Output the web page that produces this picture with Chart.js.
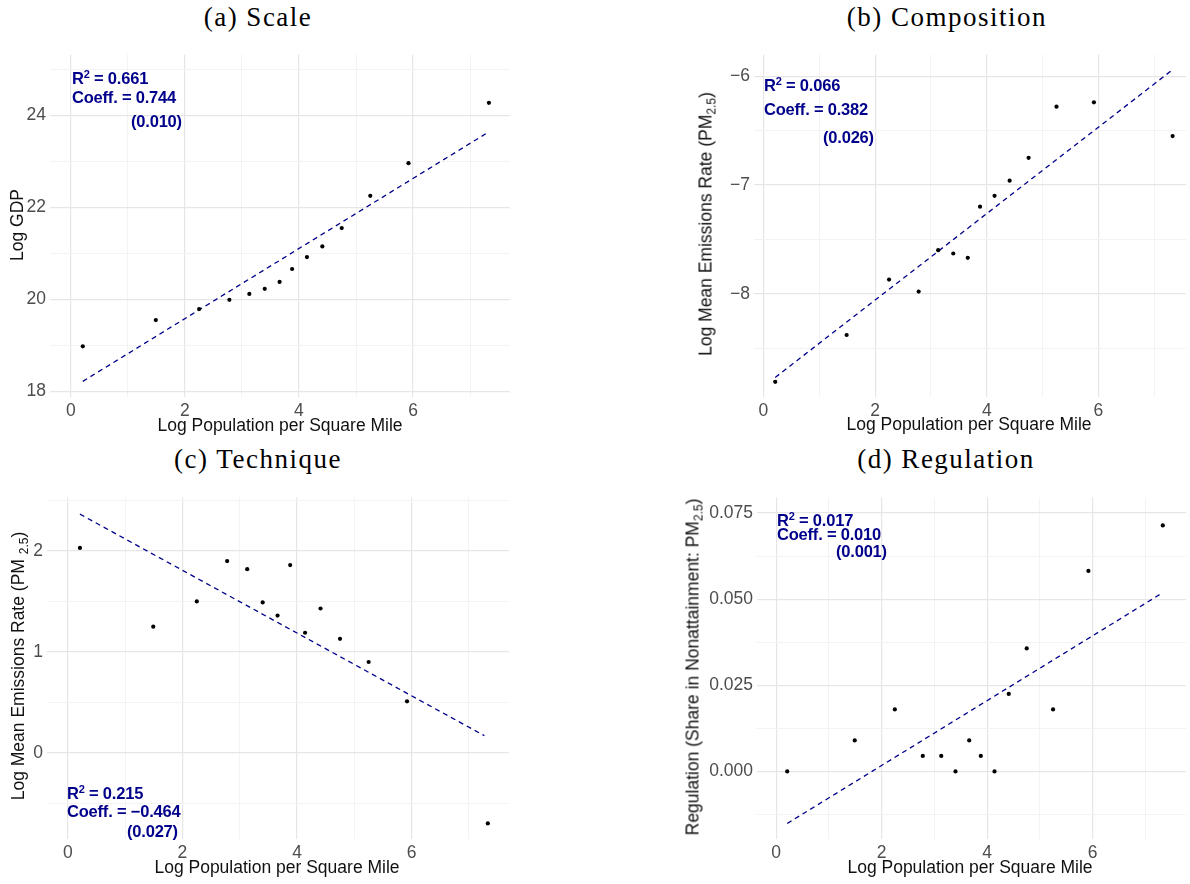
<!DOCTYPE html>
<html>
<head>
<meta charset="utf-8">
<script src="https://cdn.jsdelivr.net/npm/chart.js@4.4.0/dist/chart.umd.min.js"></script>
<style>
  body { margin:0; background:#fff; width:1190px; height:884px; position:relative; overflow:hidden;
         font-family:"Liberation Sans", Arial, sans-serif; }
  .box { position:absolute; }
  .ptitle { position:absolute; font-family:"Liberation Serif", serif; font-size:27px; letter-spacing:1.5px;
            color:#000; white-space:nowrap; line-height:30px; transform:translateX(-50%); }
  .xt { position:absolute; font-size:17.5px; color:#111; white-space:nowrap; transform:translate(-50%,-50%); }
  .yt { position:absolute; font-size:17.5px; color:#111; white-space:nowrap; transform:translate(-50%,-50%) rotate(-90deg); }
  .ann { position:absolute; font-weight:bold; font-size:16.5px; color:#00008b; white-space:nowrap;
         line-height:18px; letter-spacing:-0.2px; }
  .ann sup { font-size:11px; line-height:0; vertical-align:6px; }
  sub { font-size:12px; line-height:0; vertical-align:-4px; }
</style>
</head>
<body>

<div class="ptitle" style="left:258px;top:2px">(a) Scale</div>
<div class="ptitle" style="left:947px;top:2px">(b) Composition</div>
<div class="ptitle" style="left:258px;top:444px">(c) Technique</div>
<div class="ptitle" style="left:946px;top:444px">(d) Regulation</div>

<div class="box" style="left:0;top:40px"><canvas id="cScale" width="515" height="400"></canvas></div>
<div class="box" style="left:700px;top:40px"><canvas id="cComp" width="490" height="400"></canvas></div>
<div class="box" style="left:0;top:483px"><canvas id="cTech" width="515" height="400"></canvas></div>
<div class="box" style="left:700px;top:483px"><canvas id="cReg" width="490" height="400"></canvas></div>

<!-- axis titles -->
<div class="xt" style="left:280px;top:425px">Log Population per Square Mile</div>
<div class="xt" style="left:969px;top:424px">Log Population per Square Mile</div>
<div class="xt" style="left:277px;top:867px">Log Population per Square Mile</div>
<div class="xt" style="left:970px;top:867px">Log Population per Square Mile</div>

<div class="yt" style="left:17px;top:225px">Log GDP</div>
<div class="yt" style="left:706px;top:224px">Log Mean Emissions Rate (PM<sub>2.5</sub>)</div>
<div class="yt" style="left:18px;top:666px">Log Mean Emissions Rate (PM <sub>2.5</sub>)</div>
<div class="yt" style="left:693px;top:667px">Regulation (Share in Nonattainment: PM<sub>2.5</sub>)</div>

<!-- regression notes -->
<div class="ann" style="left:72px;top:69px">R<sup>2</sup> = 0.661</div>
<div class="ann" style="left:72px;top:88px">Coeff. = 0.744</div>
<div class="ann" style="left:131px;top:112px">(0.010)</div>

<div class="ann" style="left:764px;top:76px">R<sup>2</sup> = 0.066</div>
<div class="ann" style="left:764px;top:100px">Coeff. = 0.382</div>
<div class="ann" style="left:823px;top:128px">(0.026)</div>

<div class="ann" style="left:67px;top:784px">R<sup>2</sup> = 0.215</div>
<div class="ann" style="left:67px;top:802px">Coeff. = &minus;0.464</div>
<div class="ann" style="left:127px;top:822px">(0.027)</div>

<div class="ann" style="left:777px;top:511px">R<sup>2</sup> = 0.017</div>
<div class="ann" style="left:777px;top:525px">Coeff. = 0.010</div>
<div class="ann" style="left:836px;top:542px">(0.001)</div>

<script>
// x: log population per square mile (same bins in every panel)
const popX = [0.21, 1.49, 2.25, 2.78, 3.13, 3.40, 3.66, 3.88, 4.14, 4.41, 4.75, 5.25, 5.92, 7.33];

const gdpY  = [18.98, 19.55, 19.79, 19.99, 20.12, 20.23, 20.38, 20.66, 20.92, 21.15, 21.55, 22.25, 22.96, 24.27];
const compY = [-8.81, -8.38, -7.87, -7.98, -7.60, -7.63, -7.67, -7.20, -7.10, -6.96, -6.75, -6.28, -6.24, -6.55];
const techY = [2.03, 1.25, 1.50, 1.90, 1.82, 1.49, 1.36, 1.86, 1.19, 1.43, 1.13, 0.90, 0.51, -0.70];
const regY  = [0.000, 0.009, 0.018, 0.0045, 0.0045, 0.000, 0.009, 0.0045, 0.000, 0.0225, 0.0357, 0.018, 0.0582, 0.0714];

// fitted lines, end points
const gdpFit  = [{x:0.21, y:18.22}, {x:7.33, y:23.64}];
const compFit = [{x:0.21, y:-8.77}, {x:7.33, y:-5.94}];
const techFit = [{x:0.21, y:2.365}, {x:7.27, y:0.17}];
const regFit  = [{x:0.21, y:-0.0151}, {x:7.31, y:0.0517}];

// ticks
const xGrid = [0, 1, 2, 3, 4, 5, 6, 7];
const xLabels = [0, 2, 4, 6];
const gdpGrid = [18, 19, 20, 21, 22, 23, 24, 25];
const gdpLabels = [18, 20, 22, 24];
const compGrid = [-8.5, -8, -7.5, -7, -6.5, -6];
const compLabels = [-8, -7, -6];
const techGrid = [-0.5, 0, 0.5, 1, 1.5, 2, 2.5];
const techLabels = [0, 1, 2];
const regGrid = [-0.0125, 0, 0.0125, 0.025, 0.0375, 0.05, 0.0625, 0.075];
const regLabels = [0, 0.025, 0.05, 0.075];

Chart.defaults.font.family = '"Liberation Sans", Arial, sans-serif';

const MAJOR = '#e6e6e6', MINOR = '#f3f3f3';

function fmt(v, d){ return v.toFixed(d).replace('-', '\u2212'); }

function axis(min, max, grid, labels, dec, fit){
  return {
    type: 'linear', min, max,
    afterBuildTicks: s => { s.ticks = grid.map(v => ({value: v})); },
    afterFit: fit,
    border: {display: false},
    grid: {
      drawTicks: false,
      color: c => labels.includes(c.tick.value) ? MAJOR : MINOR,
      lineWidth: c => labels.includes(c.tick.value) ? 1.2 : 1
    },
    ticks: {
      autoSkip: false, maxRotation: 0, padding: 4, color: '#4d4d4d', font: {size: 17.5},
      callback: v => labels.includes(v) ? fmt(v, dec) : ''
    }
  };
}

function makePanel(id, ys, fit, o){
  new Chart(document.getElementById(id), {
    type: 'scatter',
    data: {
      datasets: [
        { data: ys.map((y, i) => ({x: popX[i], y})), pointRadius: 2.1, pointBorderWidth: 0,
          pointBackgroundColor: '#000', showLine: false },
        { data: fit, showLine: true, pointRadius: 0, borderColor: '#00008b', borderWidth: 1.3,
          borderDash: [5, 4], fill: false }
      ]
    },
    options: {
      responsive: false, animation: false, events: [],
      layout: {padding: {top: 12, right: o.padR, left: 0, bottom: 0}},
      plugins: {legend: {display: false}, tooltip: {enabled: false}},
      scales: {
        x: axis(o.xMin, o.xMax, xGrid, xLabels, 0, s => { s.height = o.xH; }),
        y: axis(o.min, o.max, o.grid, o.labels, o.dec, s => { s.width = o.yW; })
      }
    }
  });
}

makePanel('cScale', gdpY, gdpFit, {xMin:-0.365, xMax:7.7, min:17.88, max:25.32, grid:gdpGrid, labels:gdpLabels, dec:0, yW:50, padR:5, xH:43});
makePanel('cComp', compY, compFit, {xMin:-0.17, xMax:7.57, min:-8.95, max:-5.80, grid:compGrid, labels:compLabels, dec:0, yW:54, padR:2, xH:43});
makePanel('cTech', techY, techFit, {xMin:-0.365, xMax:7.7, min:-0.854, max:2.53, grid:techGrid, labels:techLabels, dec:0, yW:47, padR:6, xH:44});
makePanel('cReg', regY, regFit, {xMin:-0.363, xMax:7.77, min:-0.0196, max:0.0795, grid:regGrid, labels:regLabels, dec:3, yW:57, padR:2, xH:44});
</script>
</body>
</html>
